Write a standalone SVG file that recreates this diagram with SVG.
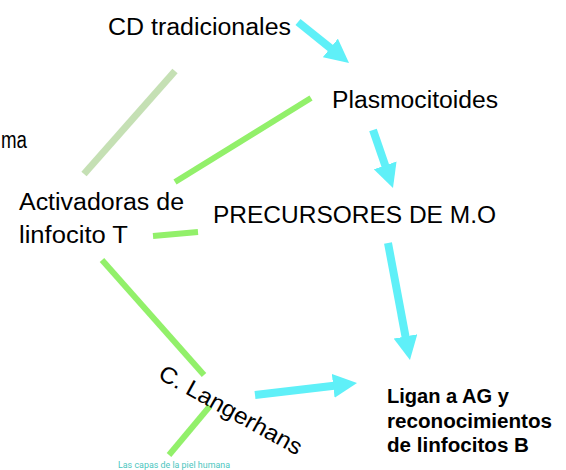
<svg xmlns="http://www.w3.org/2000/svg" width="566" height="470" viewBox="0 0 566 470">
<style>
.t{font-family:"Liberation Sans",Arial,sans-serif;font-size:23px;fill:#000}
.b{font-family:"Liberation Sans",Arial,sans-serif;font-size:20px;font-weight:bold;fill:#000}
.g{stroke:#92f06a;stroke-width:6;fill:none}
.p{stroke:#c5e0b4;stroke-width:7;fill:none}
.c{stroke:#5ff0f8;stroke-width:8;fill:none;marker-end:url(#ah)}
</style>
<defs>
<marker id="ah" markerUnits="userSpaceOnUse" markerWidth="24" markerHeight="24" viewBox="0 0 24 24" refX="1" refY="12" orient="auto">
<path d="M0,0 L24,12 L0,24 z" fill="#5ff0f8"/>
</marker>
</defs>
<rect width="566" height="470" fill="#fff"/>
<g id="connectors">
<line class="p" x1="175" y1="71" x2="84" y2="174"/>
<line class="g" x1="311" y1="98" x2="175" y2="182"/>
<line class="g" x1="153" y1="236" x2="198" y2="232"/>
<line class="g" x1="102" y1="260" x2="204" y2="375"/>
<line class="g" x1="169" y1="455" x2="210" y2="406"/>
<line class="c" x1="298" y1="22" x2="331.1" y2="48.6"/>
<line class="c" x1="373" y1="130" x2="385.5" y2="166.3"/>
<line class="c" x1="388" y1="243" x2="405.7" y2="337.4"/>
<line class="c" x1="255" y1="395" x2="334.2" y2="385.7"/>
</g>
<g id="cd-tradicionales"><text class="t" x="108" y="35" textLength="183" lengthAdjust="spacingAndGlyphs">CD tradicionales</text></g>
<g id="ma"><text class="t" x="1" y="148" textLength="26" lengthAdjust="spacingAndGlyphs">ma</text></g>
<g id="plasmocitoides"><text class="t" x="332" y="108" textLength="166" lengthAdjust="spacingAndGlyphs">Plasmocitoides</text></g>
<g id="activadoras"><text class="t" x="19" y="210" textLength="165" lengthAdjust="spacingAndGlyphs">Activadoras de</text><text class="t" x="19" y="243" textLength="109" lengthAdjust="spacingAndGlyphs">linfocito T</text></g>
<g id="precursores"><text class="t" x="213" y="223" textLength="283" lengthAdjust="spacingAndGlyphs">PRECURSORES DE M.O</text></g>
<g id="langerhans"><text class="t" transform="translate(157,378) rotate(29)" textLength="160" lengthAdjust="spacingAndGlyphs">C. Langerhans</text></g>
<g id="ligan"><text class="b" x="387" y="403" textLength="122" lengthAdjust="spacingAndGlyphs">Ligan a AG y</text><text class="b" x="387" y="428" textLength="165" lengthAdjust="spacingAndGlyphs">reconocimientos</text><text class="b" x="387" y="452" textLength="142" lengthAdjust="spacingAndGlyphs">de linfocitos B</text></g>
<g id="caption"><text x="118" y="468" font-family="Roboto,'Liberation Sans',sans-serif" font-size="9" fill="#4bc6c0" textLength="112" lengthAdjust="spacingAndGlyphs">Las capas de la piel humana</text></g>
</svg>
